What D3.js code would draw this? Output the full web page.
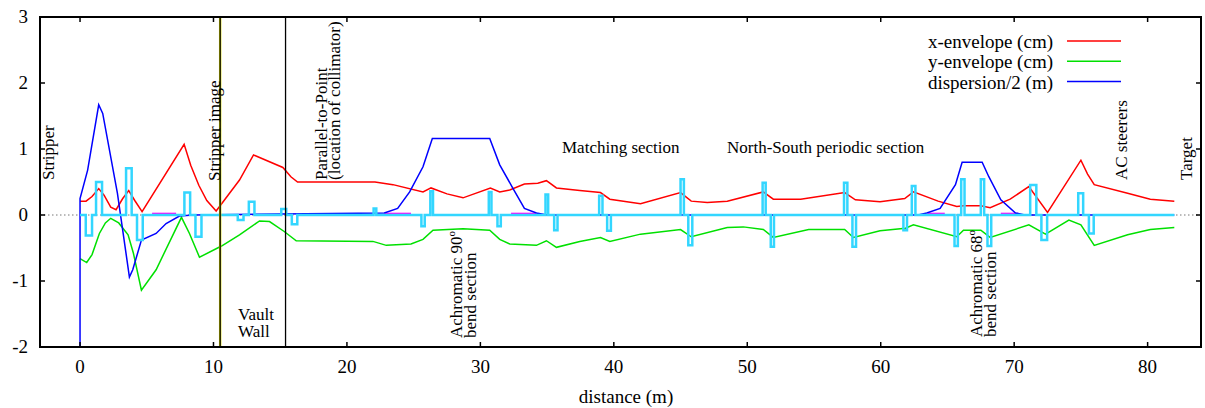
<!DOCTYPE html>
<html>
<head>
<meta charset="utf-8">
<title>Beam envelope</title>
<script src="https://d3js.org/d3.v7.min.js"></script>
<style>
    body { margin: 0; background: #fff; }
    svg text { font-family: "Liberation Serif", "Times New Roman", "DejaVu Serif", serif; fill: #000; }
</style>
</head>
<body>
<svg id="chart" width="1205" height="408"></svg>
<script>
// x-envelope (cm), [distance, value]
var xEnvelope = [
    [0, 0.21], [0.45, 0.21], [0.9, 0.28], [1.4, 0.40], [1.8, 0.30], [2.3, 0.12], [2.7, 0.08],
    [3.2, 0.25], [3.65, 0.37], [4.1, 0.22], [4.65, 0.05],
    [7.8, 1.07], [8.3, 0.75], [8.9, 0.45], [9.5, 0.22], [10.2, 0.06], [11.95, 0.53], [13.0, 0.91], [15.2, 0.72],
    [15.8, 0.58], [16.3, 0.5], [22.1, 0.5], [23.45, 0.46], [25.7, 0.35], [26.3, 0.41], [27.5, 0.32],
    [28.7, 0.26], [30.75, 0.41], [31.45, 0.35], [32.2, 0.38], [33.3, 0.47], [34.3, 0.48],
    [34.95, 0.52], [35.7, 0.41], [37.45, 0.37], [39.0, 0.34], [39.7, 0.24], [42.0, 0.17],
    [45.0, 0.34], [45.8, 0.21], [47.0, 0.19], [48.5, 0.21], [51.2, 0.35], [51.95, 0.24],
    [54.0, 0.24], [57.3, 0.34], [58.1, 0.23], [59.95, 0.2], [61.8, 0.25], [62.45, 0.35],
    [64.3, 0.21], [65.7, 0.13], [66.2, 0.14], [67.5, 0.14], [68.2, 0.11], [69.7, 0.24],
    [71.1, 0.43], [72.5, 0.04], [75.0, 0.83], [75.5, 0.62], [76.0, 0.46], [78.5, 0.33], [80.2, 0.24],
    [82.0, 0.21]
];
// y-envelope (cm)
var yEnvelope = [
    [0, -0.66], [0.5, -0.72], [0.9, -0.6], [1.45, -0.28], [1.9, -0.12], [2.3, -0.05],
    [2.9, -0.12], [3.6, -0.30], [4.0, -0.58],
    [4.6, -1.14], [5.7, -0.83], [7.6, -0.035], [8.2, -0.28], [8.95, -0.64], [10.6, -0.47],
    [11.95, -0.30], [13.45, -0.09], [14.2, -0.10], [15.3, -0.25], [16.2, -0.39],
    [21.95, -0.40], [22.95, -0.46], [24.8, -0.44], [25.7, -0.37], [26.45, -0.23],
    [28.7, -0.21], [30.7, -0.23], [31.45, -0.37], [32.2, -0.44], [34.2, -0.46],
    [34.95, -0.39], [35.7, -0.49], [37.45, -0.40], [39.0, -0.34], [39.7, -0.40],
    [42.0, -0.29], [45.0, -0.22], [45.8, -0.33], [48.5, -0.19], [49.7, -0.18],
    [51.2, -0.22], [51.95, -0.34], [54.6, -0.22], [57.3, -0.22], [57.95, -0.34],
    [59.95, -0.24], [61.85, -0.20], [62.45, -0.15], [65.7, -0.33], [66.2, -0.23],
    [67.5, -0.23], [68.2, -0.34], [71.1, -0.15], [72.35, -0.29], [74.1, -0.076],
    [75.0, -0.15], [76.0, -0.46], [78.5, -0.30], [80.2, -0.22], [82.0, -0.19]
];
// dispersion/2 (m)
var dispersion = [
    [0, -3], [0, 0.25], [0.57, 0.68], [1.4, 1.67], [1.7, 1.54], [2.8, 0.33], [3.7, -0.94],
    [3.95, -0.83], [4.6, -0.38], [5.7, -0.28], [6.45, -0.13], [7.45, -0.015], [8.5, 0],
    [22.8, 0.03], [23.8, 0.10], [24.7, 0.35], [25.7, 0.73], [26.4, 1.16], [30.7, 1.16],
    [31.45, 0.76], [32.45, 0.40], [33.3, 0.10], [34.2, 0.03], [35.0, 0],
    [62.8, 0], [63.45, 0.03], [64.45, 0.10], [65.6, 0.46], [66.1, 0.80], [67.6, 0.80],
    [68.1, 0.58], [69.0, 0.23], [70.1, 0.03], [70.8, 0], [82.0, 0]
];
// magnets: [start, end, strength]
var magnets = [
    [0.43, 0.9, -0.31], [1.2, 1.65, 0.50], [3.45, 3.87, 0.71], [4.27, 4.7, -0.38],
    [7.82, 8.25, 0.34], [8.65, 9.1, -0.33], [11.82, 12.25, -0.076], [12.65, 13.07, 0.20],
    [15.08, 15.45, 0.09], [15.87, 16.28, -0.14], [22.0, 22.2, 0.10], [25.58, 25.83, -0.17],
    [26.25, 26.45, 0.36], [30.63, 30.83, 0.35], [31.28, 31.53, -0.17], [34.88, 35.08, 0.31],
    [35.53, 35.78, -0.23], [38.9, 39.15, 0.29], [39.5, 39.78, -0.24], [45.0, 45.25, 0.54],
    [45.58, 45.88, -0.46], [51.15, 51.38, 0.49], [51.76, 52.0, -0.48], [57.25, 57.5, 0.49],
    [57.88, 58.15, -0.48], [61.7, 61.97, -0.23], [62.33, 62.6, 0.44], [65.53, 65.78, -0.47],
    [66.03, 66.28, 0.54], [67.5, 67.75, 0.54], [68.0, 68.28, -0.47], [71.2, 71.66, 0.455],
    [72.04, 72.47, -0.38], [74.8, 75.17, 0.33], [75.6, 75.96, -0.28]
];
// bends (small marks just above zero)
var bends = [[5.4, 7.2], [22.8, 24.8], [32.3, 34.2], [63.5, 64.8], [69.0, 70.3]];
var beamEnd = 82;

var xTicks = [0, 10, 20, 30, 40, 50, 60, 70, 80];
var yTicks = [-2, -1, 0, 1, 2, 3];
var walls = [10.5, 15.4];

var svg = d3.select("#chart");
var pL = 40, pR = 1201, pT = 17, pB = 347;

var x = d3.scaleLinear().domain([-3, 84]).range([pL, pR]);
var y = d3.scaleLinear().domain([-2, 3]).range([pB, pT]);

svg.append("clipPath").attr("id", "clip")
    .append("rect").attr("x", pL).attr("y", pT)
    .attr("width", pR - pL).attr("height", pB - pT);

var plot = svg.append("g").attr("clip-path", "url(#clip)");

// zero line
plot.append("line")
    .attr("x1", pL).attr("x2", pR)
    .attr("y1", y(0)).attr("y2", y(0))
    .attr("stroke", "#777").attr("stroke-width", 1)
    .attr("stroke-dasharray", "1.5,2.5");

var line = d3.line().x(function(d) { return x(d[0]); }).y(function(d) { return y(d[1]); });

plot.append("path").datum(xEnvelope).attr("d", line)
    .attr("fill", "none").attr("stroke", "#ff0000").attr("stroke-width", 1.5);
plot.append("path").datum(yEnvelope).attr("d", line)
    .attr("fill", "none").attr("stroke", "#00e000").attr("stroke-width", 1.5);

bends.forEach(function(b) {
    plot.append("line")
        .attr("x1", x(b[0])).attr("x2", x(b[1]))
        .attr("y1", y(0.02)).attr("y2", y(0.02))
        .attr("stroke", "#ff00ff").attr("stroke-width", 2);
});

plot.append("path").datum(dispersion).attr("d", line)
    .attr("fill", "none").attr("stroke", "#0000ff").attr("stroke-width", 1.5);

// magnet step outline
var steps = [[0, 0]];
magnets.forEach(function(m) {
    steps.push([m[0], 0], [m[0], m[2]], [m[1], m[2]], [m[1], 0]);
});
steps.push([beamEnd, 0]);
plot.append("path").datum(steps).attr("d", line)
    .attr("fill", "none").attr("stroke", "#33d6ff").attr("stroke-width", 2.5)
    .attr("stroke-linejoin", "miter");

// vault wall lines
plot.append("line")
    .attr("x1", x(walls[0])).attr("x2", x(walls[0]))
    .attr("y1", pT).attr("y2", pB)
    .attr("stroke", "#d8d800").attr("stroke-width", 2.4);
walls.forEach(function(w) {
    plot.append("line")
        .attr("x1", x(w)).attr("x2", x(w))
        .attr("y1", pT).attr("y2", pB)
        .attr("stroke", "#000").attr("stroke-width", 1.3);
});

// frame and ticks
svg.append("rect").attr("x", pL).attr("y", pT)
    .attr("width", pR - pL).attr("height", pB - pT)
    .attr("fill", "none").attr("stroke", "#000").attr("stroke-width", 2);

xTicks.forEach(function(t) {
    svg.append("line").attr("x1", x(t)).attr("x2", x(t)).attr("y1", pB).attr("y2", pB - 5)
        .attr("stroke", "#000").attr("stroke-width", 1.5);
    svg.append("line").attr("x1", x(t)).attr("x2", x(t)).attr("y1", pT).attr("y2", pT + 5)
        .attr("stroke", "#000").attr("stroke-width", 1.5);
    svg.append("text").attr("x", x(t)).attr("y", 373)
        .attr("text-anchor", "middle").attr("font-size", 19).text(t);
});
yTicks.forEach(function(t) {
    svg.append("line").attr("x1", pL).attr("x2", pL + 5).attr("y1", y(t)).attr("y2", y(t))
        .attr("stroke", "#000").attr("stroke-width", 1.5);
    svg.append("line").attr("x1", pR).attr("x2", pR - 5).attr("y1", y(t)).attr("y2", y(t))
        .attr("stroke", "#000").attr("stroke-width", 1.5);
    svg.append("text").attr("x", 28).attr("y", y(t) + 6)
        .attr("text-anchor", "end").attr("font-size", 19).text(t);
});

svg.append("text").attr("x", 626).attr("y", 403)
    .attr("text-anchor", "middle").attr("font-size", 19).text("distance (m)");

// legend
var legend = [
    ["x-envelope (cm)", "#ff0000"],
    ["y-envelope (cm)", "#00e000"],
    ["dispersion/2 (m)", "#0000ff"]
];
legend.forEach(function(l, i) {
    var ly = 41 + i * 20.3;
    svg.append("text").attr("x", 1053).attr("y", ly + 7)
        .attr("text-anchor", "end").attr("font-size", 19).text(l[0]);
    svg.append("line").attr("x1", 1067).attr("x2", 1121).attr("y1", ly).attr("y2", ly)
        .attr("stroke", l[1]).attr("stroke-width", 1.5);
});

// annotations
function vtext(bx, by, str, sup) {
    var t = svg.append("text")
        .attr("transform", "translate(" + bx + "," + by + ") rotate(-90)")
        .attr("font-size", 17).text(str);
    if (sup) {
        t.append("tspan").attr("font-size", 11).attr("dy", -7).text(sup);
    }
}
vtext(54, 180, "Stripper");
vtext(220, 181, "Stripper image");
vtext(327, 180, "Parallel-to-Point");
vtext(340, 180, "(location of collimator)");
vtext(462, 338, "Achromatic 90", "o");
vtext(476, 338, "bend section");
vtext(982, 337, "Achromatic 68", "o");
vtext(996, 337, "bend section");
vtext(1127, 180, "AC steerers");
vtext(1192, 180, "Target");

function htext(tx, ty, str) {
    svg.append("text").attr("x", tx).attr("y", ty).attr("font-size", 17).text(str);
}
htext(238, 320, "Vault");
htext(238, 337, "Wall");
htext(562, 153, "Matching section");
htext(727, 153, "North-South periodic section");
</script>
</body>
</html>
